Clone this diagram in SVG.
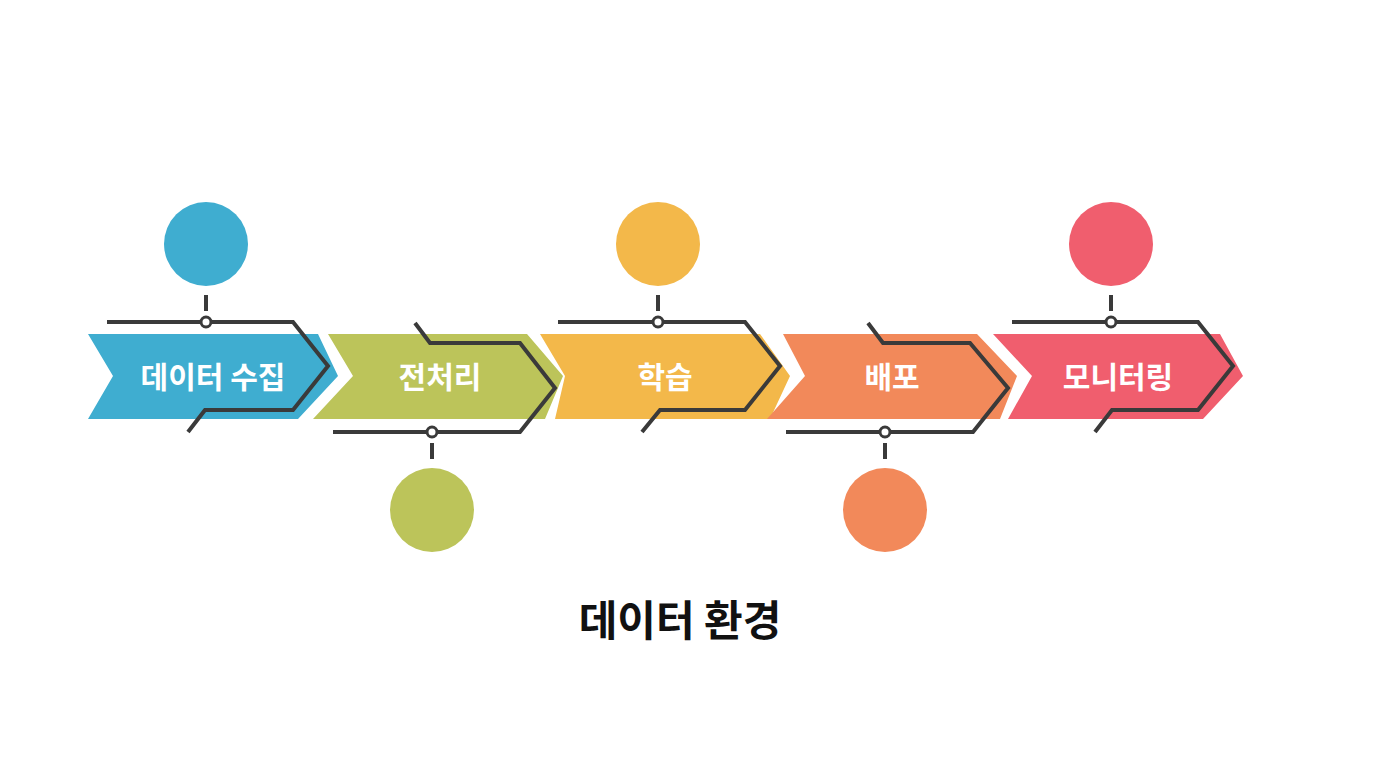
<svg xmlns="http://www.w3.org/2000/svg" width="1376" height="768" viewBox="0 0 1376 768">
<style>
.lbl{font-family:"Noto Sans CJK KR","Noto Sans",sans-serif;font-weight:bold;font-size:30px;fill:#fff;text-anchor:middle}
.ln{fill:none;stroke:#3a3a3a;stroke-width:4;stroke-linejoin:miter}
.dot{fill:#fff;stroke:#3a3a3a;stroke-width:3}
</style>
<rect width="1376" height="768" fill="#fff"/>
<g id="n1"><polygon points="88,334 318,334 338,376 298,419 88,419 113,376" fill="#3fadd0"/><circle cx="206" cy="244" r="42" fill="#3fadd0"/><text class="lbl" x="213" y="388">데이터 수집</text></g>
<g id="n2"><polygon points="328,334 527,334 563,376 545,419 313,419 353,376" fill="#bcc45a"/><circle cx="432" cy="510" r="42" fill="#bcc45a"/><text class="lbl" x="440" y="388">전처리</text></g>
<g id="n3"><polygon points="540,334 760,334 790,376 770,419 555,419 565,376" fill="#f3b84a"/><circle cx="658" cy="244" r="42" fill="#f3b84a"/><text class="lbl" x="665" y="388">학습</text></g>
<g id="n4"><polygon points="783,334 977,334 1017,376 1000,419 767,419 805,376" fill="#f2895a"/><circle cx="885" cy="510" r="42" fill="#f2895a"/><text class="lbl" x="892" y="388">배포</text></g>
<g id="n5"><polygon points="993,334 1220,334 1243,376 1203,419 1008,419 1032,376" fill="#f05e6e"/><circle cx="1111" cy="244" r="42" fill="#f05e6e"/><text class="lbl" x="1118" y="388">모니터링</text></g>
<g id="connectors">
<polyline class="ln" points="107,322 293,322 328,366 293,410 205,410 188,432"/>
<line class="ln" x1="206" y1="295" x2="206" y2="311"/><circle class="dot" cx="206" cy="322" r="5"/>
<polyline class="ln" points="415,323 430,343 520,343 555,388 520,432 333,432"/>
<line class="ln" x1="432" y1="443" x2="432" y2="459"/><circle class="dot" cx="432" cy="432" r="5"/>
<polyline class="ln" points="558,322 745,322 780,366 745,410 660,410 642,432"/>
<line class="ln" x1="658" y1="295" x2="658" y2="311"/><circle class="dot" cx="658" cy="322" r="5"/>
<polyline class="ln" points="868,323 883,343 970,343 1008,388 973,432 786,432"/>
<line class="ln" x1="885" y1="443" x2="885" y2="459"/><circle class="dot" cx="885" cy="432" r="5"/>
<polyline class="ln" points="1012,322 1198,322 1233,366 1198,410 1112,410 1095,432"/>
<line class="ln" x1="1111" y1="295" x2="1111" y2="311"/><circle class="dot" cx="1111" cy="322" r="5"/>
</g>
<text x="680" y="636" font-family="Noto Sans CJK KR,Noto Sans,sans-serif" font-weight="bold" font-size="42" fill="#111" text-anchor="middle">데이터 환경</text>
</svg>
